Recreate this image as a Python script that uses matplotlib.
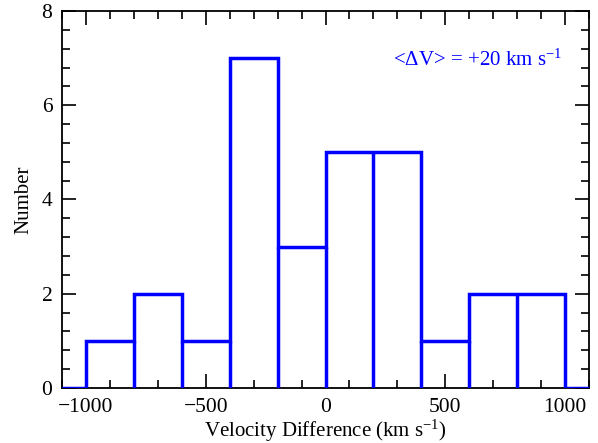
"""
Velocity-difference histogram, IDL look.
"""

import numpy as np
import matplotlib
matplotlib.use("Agg")
import matplotlib.pyplot as plt
from matplotlib.ticker import MultipleLocator

# bin edges (km/s) and counts per bin
edges = np.array([-1000, -800, -600, -400, -200, 0, 200, 400, 600, 800, 1000])
counts = np.array([1, 2, 1, 7, 3, 5, 5, 1, 2, 2])
x_range = [-1100, 1100]
y_range = [0, 8]
label_text = r"<$\Delta$V> = +20 km s$^{-1}$"

plt.rcParams["font.family"] = ["Liberation Serif", "DejaVu Serif"]
plt.rcParams["mathtext.fontset"] = "custom"
plt.rcParams["mathtext.rm"] = "Liberation Serif"
plt.rcParams["mathtext.it"] = "Liberation Serif:italic"

blue = "#0000ff"
lw = 2.5

fig = plt.figure(figsize=(5.98, 4.43), dpi=100)
ax = fig.add_axes([0.1037, 0.1242, 0.8813, 0.851])

# outline of every bar
ax.stairs(counts, edges, baseline=0, color=blue, lw=lw, zorder=3)
ax.vlines(edges[1:-1], 0, np.minimum(counts[:-1], counts[1:]),
          color=blue, lw=lw, zorder=3)
# empty regions outside the binned range
ax.plot([x_range[0], edges[0]], [0, 0], color=blue, lw=lw, zorder=3,
        solid_capstyle="butt")
ax.plot([edges[-1], x_range[1]], [0, 0], color=blue, lw=lw, zorder=3,
        solid_capstyle="butt")

ax.set_xlim(x_range)
ax.set_ylim(y_range)

ax.xaxis.set_major_locator(MultipleLocator(500))
ax.xaxis.set_minor_locator(MultipleLocator(100))
ax.yaxis.set_major_locator(MultipleLocator(2))
ax.yaxis.set_minor_locator(MultipleLocator(0.4))
ax.tick_params(which="both", direction="in", top=True, right=True,
               width=1.2, labelsize=15.5, pad=7)
ax.tick_params(which="major", length=10)
ax.tick_params(which="minor", length=5.5)
for sp in ax.spines.values():
    sp.set_linewidth(1.3)
    sp.set_zorder(2)

ax.set_xlabel("Velocity Difference (km s$^{-1}$)", fontsize=15, labelpad=1)
ax.set_ylabel("Number", fontsize=15, labelpad=6)

ax.text(0.948, 0.87, label_text, transform=ax.transAxes, color=blue,
        fontsize=15, ha="right", va="center")

fig.savefig("out.png", dpi=100)
